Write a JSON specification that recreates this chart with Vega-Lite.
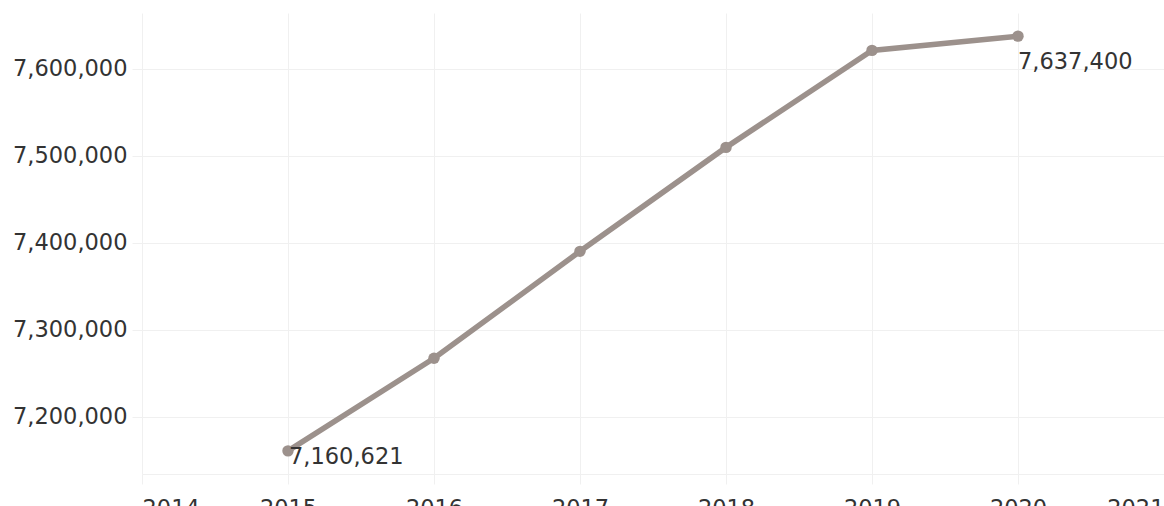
{
  "$schema": "https://vega.github.io/schema/vega-lite/v6.json",
  "width": 1022,
  "height": 461,
  "autosize": {"type": "none"},
  "padding": {"left": 142, "top": 13, "right": 0, "bottom": 32},
  "background": "white",
  "config": {"view": {"stroke": null}, "font": "DejaVu Sans"},
  "data": {
    "values": [
      {"year": 2015, "pop": 7160621},
      {"year": 2016, "pop": 7267000},
      {"year": 2017, "pop": 7390000},
      {"year": 2018, "pop": 7509500},
      {"year": 2019, "pop": 7621000},
      {"year": 2020, "pop": 7637400}
    ]
  },
  "encoding": {
    "x": {
      "field": "year",
      "type": "quantitative",
      "scale": {"domain": [2014, 2021], "nice": false, "zero": false},
      "axis": {
        "title": null,
        "values": [2014, 2015, 2016, 2017, 2018, 2019, 2020, 2021],
        "format": "d",
        "labelFlush": true,
        "labelOverlap": false,
        "grid": true,
        "gridColor": "#f0f0f0",
        "domainColor": "#f0f0f0",
        "tickColor": "#f0f0f0",
        "tickSize": 10,
        "labelFontSize": 22.5,
        "labelPadding": 13,
        "labelColor": "#333333",
        "labelFont": "DejaVu Sans",
        "labelFontWeight": "normal"
      }
    },
    "y": {
      "field": "pop",
      "type": "quantitative",
      "scale": {"domain": [7134000, 7664000], "nice": false, "zero": false},
      "axis": {
        "title": null,
        "values": [7200000, 7300000, 7400000, 7500000, 7600000],
        "format": ",d",
        "domain": false,
        "grid": true,
        "gridColor": "#f0f0f0",
        "tickColor": "#f0f0f0",
        "tickSize": 10,
        "labelFontSize": 22.5,
        "labelPadding": 5,
        "labelColor": "#333333",
        "labelFont": "DejaVu Sans",
        "labelFontWeight": "normal"
      }
    }
  },
  "layer": [
    {"mark": {"type": "line", "color": "#9c918c", "strokeWidth": 5.5}},
    {"mark": {"type": "point", "filled": true, "color": "#9c918c", "size": 130, "opacity": 1}},
    {
      "transform": [{"filter": "datum.year == 2015"}],
      "mark": {"type": "text", "align": "left", "baseline": "alphabetic", "dx": 1, "dy": 13, "fontSize": 22.5, "color": "#333333"},
      "encoding": {"text": {"field": "pop", "type": "quantitative", "format": ",d"}}
    },
    {
      "transform": [{"filter": "datum.year == 2020"}],
      "mark": {"type": "text", "align": "left", "baseline": "alphabetic", "dx": 0, "dy": 33, "fontSize": 22.5, "color": "#333333"},
      "encoding": {"text": {"field": "pop", "type": "quantitative", "format": ",d"}}
    }
  ]
}
